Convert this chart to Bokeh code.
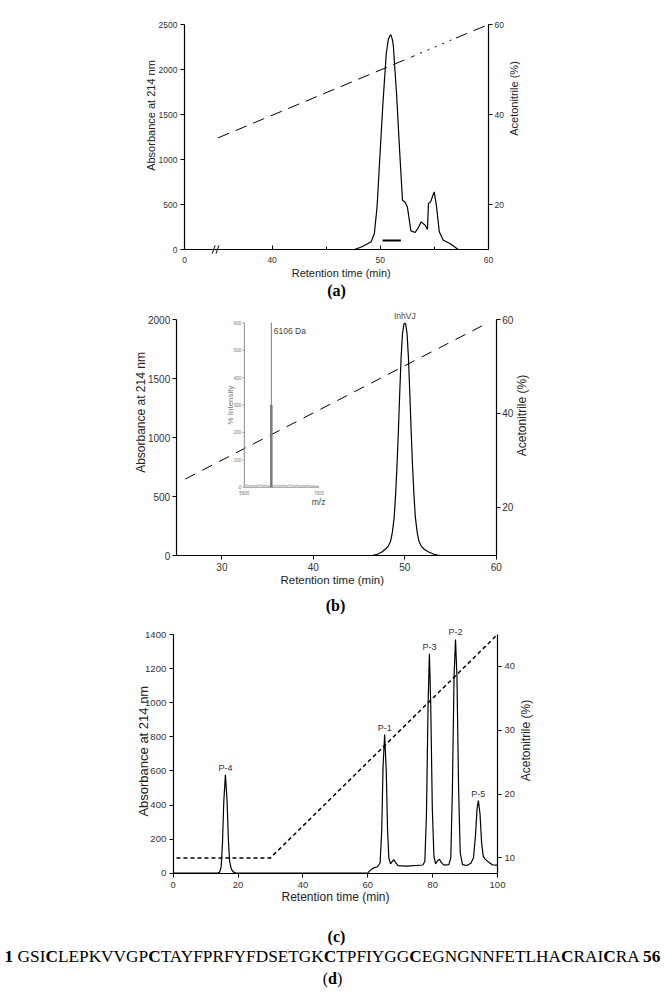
from math import pi
from bokeh.plotting import figure
from bokeh.models import Range1d, LinearAxis, FixedTicker, Label, Div
from bokeh.layouts import column
from bokeh.embed import file_html
from bokeh.resources import INLINE
from bokeh.core.properties import value

SANS = "Liberation Sans"
SERIF = "Liberation Serif"
INK = "#222222"
W = 665

# ---------------- panel (a) data ----------------
a_time = [40, 47.6, 48.2, 48.7, 49.15, 49.45, 49.7, 49.94, 50.24, 50.55, 50.75, 50.95, 51.1,
          51.2, 51.5, 51.8, 52.05, 52.28, 52.5, 52.83, 53.22, 53.5, 53.78, 54.15, 54.36,
          54.45, 54.65, 54.85, 54.99, 55.2, 55.45, 55.82, 56.43, 57.2, 60]
a_abs = [0, 0, 25, 55, 85, 178, 473, 992, 1622, 2178, 2340, 2390, 2340,
         2270, 1733, 1067, 548, 529, 473, 207, 189, 240, 307, 270, 222,
         511, 529, 600, 640, 473, 196, 103, 67, 0, 0]
a_bar_time = [50.2, 51.9]
a_bar_abs = [100, 100]
a_acn_time1 = [35, 53]
a_acn_val1 = [34.8, 52.9]
a_acn_time2 = [53, 57]
a_acn_val2 = [52.9, 57.0]
a_acn_time3 = [57, 60]
a_acn_val3 = [57.0, 60]
a_xticks = [31.9, 40, 50, 60]
a_xtick_labels = {31.9: "0"}
a_xminor = [45, 55]
a_yticks = [0, 500, 1000, 1500, 2000, 2500]
a_acn_ticks = [20, 40, 60]
a_break_x = 34.8

# ---------------- panel (b) data ----------------
b_time = [25, 46.4, 47.0, 47.5, 47.9, 48.2, 48.45, 48.65, 48.85, 49.0, 49.15, 49.3, 49.45,
          49.6, 49.75, 49.9, 50.0, 50.1, 50.25, 50.4, 50.55, 50.7, 50.85, 51.0, 51.15, 51.35,
          51.55, 51.8, 52.1, 52.6, 53.2, 53.8, 60]
b_abs = [0, 0, 10, 30, 55, 80, 120, 200, 330, 520, 760, 1050, 1380,
         1680, 1880, 1960, 1969, 1960, 1880, 1680, 1380, 1050, 760, 520, 330, 200,
         120, 80, 55, 30, 10, 0, 0]
b_acn_time = [26, 59]
b_acn_val = [26, 59.2]
b_xticks = [30, 40, 50, 60]
b_yticks = [0, 500, 1000, 1500, 2000]
b_acn_ticks = [20, 40, 60]
b_peak_label = "InhVJ"
b_peak_time = 50.0
b_peak_abs = 1969
# inset mass spectrum
ms_mz = [5600, 5650, 5700, 5750, 5800, 5850, 5900, 5950, 6000, 6050, 6090, 6120, 6150, 6200,
         6250, 6300, 6350, 6400, 6450, 6500, 6550, 6600, 6650, 6700, 6750, 6800, 6850, 6900,
         6950, 7000]
ms_int = [6, 8, 5, 7, 4, 6, 9, 5, 7, 3, 6, 5, 4, 8, 5, 6, 7, 4, 9, 6, 5, 8, 4, 6, 5, 7, 3, 5, 4, 2]
ms_peak_mz = 6106
ms_peak_top = 600
ms_peak_bar = 300
ms_yticks = [0, 100, 200, 300, 400, 500, 600]
ms_xticks = [5600, 7000]

# ---------------- panel (c) data ----------------
c_time = [0, 13.5, 14.3, 14.8, 15.2, 15.6, 16.1, 16.6, 17.0, 17.4, 17.9, 18.5, 19.5,
          60, 60.5, 61.5, 63.0, 63.8, 64.3, 64.7, 65.2, 65.7, 66.1, 66.5, 67.0, 67.6, 68.0,
          68.5, 69.3, 72, 77.0, 77.6, 78.1, 78.6, 79.0, 79.4, 79.9, 80.4, 80.9, 81.6, 82.1,
          82.7, 83.5, 85.0, 85.6, 86.1, 86.6, 87.05, 87.5, 88.0, 88.5, 89.2, 90.5, 91.8,
          92.6, 93.2, 93.7, 94.1, 94.6, 95.1, 95.6, 96.1, 97.2, 98.5, 100]
c_abs = [0, 0, 5, 40, 180, 420, 577, 430, 200, 70, 25, 8, 0,
         0, 12, 28, 38, 60, 250, 620, 813, 600, 250, 90, 55, 70, 80,
         65, 45, 42, 48, 70, 350, 1000, 1287, 1000, 380, 100, 55, 75, 82,
         62, 47, 50, 90, 500, 1150, 1371, 1150, 500, 120, 50, 45, 58,
         90, 220, 380, 426, 350, 180, 100, 84, 65, 48, 47]
c_acn_time = [1, 30, 100]
c_acn_val = [10, 10, 45]
c_peak_names = ["P-4", "P-1", "P-3", "P-2", "P-5"]
c_peak_time = [16.1, 65.2, 79.0, 87.05, 94.1]
c_peak_abs = [577, 813, 1287, 1371, 426]
c_xticks = [0, 20, 40, 60, 80, 100]
c_yticks = [0, 200, 400, 600, 800, 1000, 1200, 1400]
c_acn_ticks = [10, 20, 30, 40]

sequence = "GSICLEPKVVGPCTAYFPRFYFDSETGKCTPFIYGGCEGNGNNFETLHACRAICRA"


class Panel:
    """A figure whose frame fills the canvas; the 'data box' sits at given pixels."""

    def __init__(self, H, xlim, xpx, ylim, ypx, acn):
        sx = (xlim[1] - xlim[0]) / (xpx[1] - xpx[0])
        self.x0 = xlim[0] - xpx[0] * sx
        self.x1 = xlim[0] + (W - xpx[0]) * sx
        sy = (ylim[1] - ylim[0]) / (ypx[0] - ypx[1])
        self.y0 = ylim[0] - (H - ypx[0]) * sy
        self.y1 = ylim[1] + ypx[1] * sy
        sa = (acn[1] - acn[0]) / (ypx[0] - ypx[1])
        a0 = acn[0] - (H - ypx[0]) * sa
        a1 = acn[1] + ypx[1] * sa
        self.H = H
        p = figure(x_range=Range1d(self.x0, self.x1), y_range=Range1d(self.y0, self.y1),
                   frame_width=W, frame_height=H, min_border=0, output_backend="svg",
                   toolbar_location=None, tools="", title=None, x_axis_type=None,
                   y_axis_type=None)
        p.extra_y_ranges = {"acn": Range1d(a0, a1)}
        p.grid.visible = False
        p.outline_line_color = None
        p.background_fill_color = "white"
        p.border_fill_color = "white"
        self.p = p

    def data(self, px, py):
        return (self.x0 + px * (self.x1 - self.x0) / W,
                self.y1 - py * (self.y1 - self.y0) / self.H)

    def label(self, px, py, text, size, angle=0.0, font=SANS, style="normal", color=INK):
        x, y = self.data(px, py)
        self.p.add_layout(Label(x=x, y=y, text=text, angle=angle, text_align="center",
                                text_baseline="middle", text_font=font, text_font_size=size,
                                text_font_style=style, text_color=color))

    def axis(self, side, ticks, bounds, loc, size, t_in=0, t_out=4, standoff=3, rng=None,
             minor=None):
        kw = {"y_range_name": rng} if rng else {}
        ax = LinearAxis(fixed_location=loc, bounds=bounds, **kw)
        ax.ticker = FixedTicker(ticks=ticks, minor_ticks=minor or [])
        ax.axis_line_color = "black"
        ax.axis_line_width = 1.2
        ax.major_tick_line_color = "black"
        ax.major_tick_line_width = 1
        ax.major_tick_in = t_in
        ax.major_tick_out = t_out
        if minor:
            ax.minor_tick_line_color = "black"
            ax.minor_tick_in = 3
            ax.minor_tick_out = 0
        else:
            ax.minor_tick_line_color = None
        ax.major_label_text_font = SANS
        ax.major_label_text_font_size = size
        ax.major_label_text_color = "#333333"
        ax.major_label_standoff = standoff
        self.p.add_layout(ax, side)
        return ax


# ================= panel (a) =================
A = Panel(300, (31.9, 60), (184, 488), (0, 2500), (249, 24), (10, 60))
pa = A.p
xa = A.axis("below", a_xticks, (31.9, 60), 0, "8.5px", t_in=4, t_out=0, standoff=7,
            minor=a_xminor)
xa.major_label_overrides = a_xtick_labels
A.axis("left", a_yticks, (0, 2500), 31.9, "8.5px", standoff=3)
A.axis("right", a_acn_ticks, (10, 60), 60, "8.5px", standoff=2, rng="acn")

pa.line(a_time, a_abs, line_color="black", line_width=1.2)
pa.line(a_bar_time, a_bar_abs, line_color="black", line_width=2)
pa.line(a_acn_time1, a_acn_val1, y_range_name="acn", line_color="black", line_width=1,
        line_dash="12 7")
pa.line(a_acn_time2, a_acn_val2, y_range_name="acn", line_color="black", line_width=1,
        line_dash="2 6")
pa.line(a_acn_time3, a_acn_val3, y_range_name="acn", line_color="black", line_width=1,
        line_dash="12 7")
brk_x = [a_break_x - 0.2, a_break_x + 0.15]
pa.segment(x0=[b - 0.13 for b in brk_x], y0=[-45, -45], x1=[b + 0.13 for b in brk_x],
           y1=[45, 45], line_color="black", line_width=1)

A.label(150, 115, "Absorbance at 214 nm", "11px", angle=pi / 2)
A.label(513, 98, "Acetonitrile (%)", "11px", angle=pi / 2)
A.label(340.7, 272.7, "Retention time (min)", "11px")
A.label(336, 290, "(a)", "16px", font=SERIF, style="bold", color="black")

# ================= panel (b) =================
B = Panel(315, (25, 60), (175.7, 495.7), (0, 2000), (255, 19), (9.7, 60))
pb = B.p
B.axis("below", b_xticks, (25, 60), 0, "10px", standoff=3)
B.axis("left", b_yticks, (0, 2000), 25, "10px", standoff=2)
B.axis("right", b_acn_ticks, (9.7, 60), 60, "10px", standoff=2, rng="acn")

pb.line(b_time, b_abs, line_color="black", line_width=1.2)
pb.line(b_acn_time, b_acn_val, y_range_name="acn", line_color="black", line_width=1,
        line_dash="11 8")
pb.text(x=[b_peak_time], y=[b_peak_abs], text=[b_peak_label], text_align="center",
        text_baseline="bottom", y_offset=-2, text_font=value(SANS), text_font_size="8.5px",
        text_color="#444444")

inset = pb.subplot(x_source=Range1d(5600, 7000), y_source=Range1d(0, 600),
                   x_target=Range1d(32.45, 40.63), y_target=Range1d(579, 1972))
GRAY = "#8a8a8a"
inset.line([5600, 5600], [0, 600], line_color=GRAY, line_width=1)
inset.line([5600, 7000], [0, 0], line_color=GRAY, line_width=1)
inset.segment(x0=[5600] * len(ms_yticks), y0=ms_yticks, x1=[5565] * len(ms_yticks),
              y1=ms_yticks, line_color=GRAY, line_width=0.8)
inset.text(x=[5545] * len(ms_yticks), y=ms_yticks, text=[str(t) for t in ms_yticks],
           text_align="right", text_baseline="middle", text_font=value(SANS),
           text_font_size="4.5px", text_color="#777777")
inset.text(x=ms_xticks, y=[-14, -14], text=[str(t) for t in ms_xticks], text_align="center",
           text_baseline="top", text_font=value(SANS), text_font_size="4.5px",
           text_color="#777777")
inset.line(ms_mz, ms_int, line_color="#9a9a9a", line_width=0.8)
inset.line([ms_peak_mz, ms_peak_mz], [0, ms_peak_top], line_color="#7a7a7a", line_width=1)
inset.line([ms_peak_mz, ms_peak_mz], [0, ms_peak_bar], line_color="#7a7a7a", line_width=2.5)
inset.text(x=[ms_peak_mz + 45], y=[ms_peak_top - 30], text=["6106 Da"], text_align="left",
           text_baseline="middle", text_font=value(SANS), text_font_size="8.5px",
           text_color="#444444")
inset.text(x=[5340], y=[300], text=["% Intensity"], angle=pi / 2, text_align="center",
           text_baseline="middle", text_font=value(SANS), text_font_size="8px",
           text_color="#777777")
inset.text(x=[6990], y=[-55], text=["m/z"], text_align="center", text_baseline="middle",
           text_font=value(SANS), text_font_size="8.5px", text_color="#444444")

B.label(140, 112, "Absorbance at 214 nm", "12px", angle=pi / 2)
B.label(521.7, 115, "Acetonitrile (%)", "12px", angle=pi / 2)
B.label(331.7, 279.3, "Retention time (min)", "11.5px")
B.label(335, 305, "(b)", "16px", font=SERIF, style="bold", color="black")

# ================= panel (c) =================
C = Panel(331, (0, 100), (172.7, 497), (0, 1400), (257.7, 19), (7.6, 45))
pc = C.p
C.axis("below", c_xticks, (0, 100), 0, "9.5px", standoff=5)
C.axis("left", c_yticks, (0, 1400), 0, "9.5px", standoff=3)
C.axis("right", c_acn_ticks, (7.6, 45), 100, "9.5px", standoff=3, rng="acn")

pc.line(c_time, c_abs, line_color="black", line_width=1.2)
pc.line(c_acn_time, c_acn_val, y_range_name="acn", line_color="black", line_width=1.5,
        line_dash="4 3")
pc.text(x=c_peak_time, y=c_peak_abs, text=c_peak_names, text_align="center",
        text_baseline="bottom", y_offset=-2, text_font=value(SANS), text_font_size="9px",
        text_color="#333333")

C.label(143, 135.7, "Absorbance at 214 nm", "13px", angle=pi / 2)
C.label(525, 125, "Acetonitrile (%)", "12px", angle=pi / 2)
C.label(335, 281, "Retention time (min)", "12px")
C.label(336, 321, "(c)", "16px", font=SERIF, style="bold", color="black")

# ================= (d) sequence =================
seq_html = "".join("<b>C</b>" if ch == "C" else ch for ch in sequence)
div_seq = Div(text=(f'<div style="width:{W}px;text-align:center;white-space:nowrap;'
                    f'font-family:\'{SERIF}\',serif;font-size:17.3px;line-height:22px;color:#000">'
                    f'<b>1</b> {seq_html} <b>56</b></div>'),
              width=W, height=22, margin=0)
div_d = Div(text=(f'<div style="width:{W}px;text-align:center;font-family:\'{SERIF}\',serif;'
                  f'font-size:16px;line-height:22px;color:#000">(<b>d</b>)</div>'),
            width=W, height=22, margin=0)

layout = column(pa, pb, pc, div_seq, div_d, spacing=0)
open("out.html", "w").write(file_html(layout, INLINE))
